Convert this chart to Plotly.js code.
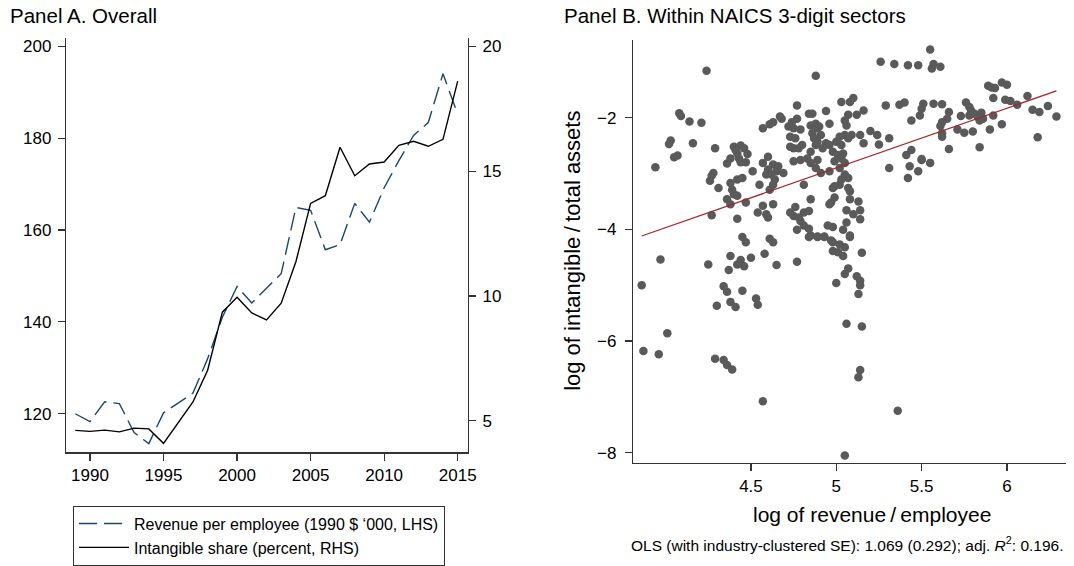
<!DOCTYPE html>
<html>
<head>
<meta charset="utf-8">
<script src="https://cdn.plot.ly/plotly-3.0.1.min.js"></script>
<style>html,body{margin:0;padding:0;background:#fff;}#chart{width:1074px;height:566px;}</style>
</head>
<body>
<div id="chart"></div>
<script>
// ---------- Panel A data ----------
const years = [1989,1990,1991,1992,1993,1994,1995,1996,1997,1998,1999,2000,2001,2002,2003,2004,2005,2006,2007,2008,2009,2010,2011,2012,2013,2014,2015];
const revenuePerEmployee = [120.0,118.3,122.6,122.2,115.9,113.5,120.2,122.4,124.5,132.0,141.0,147.7,144.1,147.3,150.5,164.9,164.3,155.7,156.8,165.8,161.7,169.2,175.1,180.6,183.4,194.0,185.2];
const intangibleShare = [4.61,4.57,4.62,4.55,4.70,4.67,4.09,4.92,5.75,7.02,9.35,9.95,9.32,9.04,9.71,11.37,13.71,14.02,15.96,14.82,15.29,15.37,16.04,16.20,16.00,16.28,18.61];
const seriesNames = ["Revenue per employee (1990 $ \u2018000, LHS)", "Intangible share (percent, RHS)"];
const yearTicks = [1990,1995,2000,2005,2010,2015];
const leftTicks = [120,140,160,180,200];
const rightTicks = [5,10,15,20];

// ---------- Panel B data ----------
const logRevPerEmp = [
4.24,4.09,4.08,4.14,4.21,4.03,4.02,4.16,4.05,4.07,3.94,4.29,4.26,4.28,4.27,4.31,4.27,
4.40,4.44,4.46,4.42,4.38,4.43,4.48,4.47,4.36,4.44,4.41,4.51,4.38,4.42,4.45,4.39,4.40,4.36,4.38,4.47,4.42,4.42,4.55,4.54,
4.45,4.47,4.61,4.63,3.97,4.25,4.38,4.44,4.42,4.46,4.50,4.58,4.37,4.65,3.86,4.34,4.36,4.45,4.30,4.38,4.41,4.53,4.54,
4.01,3.87,3.96,4.29,4.34,4.36,4.39,4.57,
4.77,5.00,5.05,5.07,5.12,5.14,5.14,5.13,5.15,4.98,5.02,5.05,4.98,5.01,5.04,4.84,4.89,4.93,5.08,5.06,5.15,5.14,5.13,5.36,5.05,
4.88,5.26,5.34,5.42,5.48,5.55,5.03,5.08,5.10,5.29,5.37,5.40,5.51,5.50,5.49,5.44,4.77,4.94,5.16,5.12,5.07,4.84,4.86,
4.67,4.68,4.63,4.61,4.57,4.77,4.74,4.72,4.75,4.79,4.73,4.76,4.85,4.88,4.89,4.86,4.90,4.96,4.91,4.87,4.89,4.94,4.92,4.96,4.88,4.85,
4.80,4.78,4.75,4.73,5.05,5.06,5.02,5.05,5.09,5.14,5.00,5.03,5.07,5.16,5.20,5.24,5.25,5.31,4.98,5.01,5.04,5.03,4.99,
4.83,4.79,4.75,4.85,4.89,4.60,4.57,4.63,4.66,4.60,4.65,4.69,4.62,4.59,4.64,4.63,4.61,4.88,4.91,4.96,5.02,5.05,5.05,5.07,5.03,5.02,4.99,4.98,
4.81,5.07,5.08,4.85,4.99,4.97,4.96,5.08,5.13,4.63,4.57,4.59,4.60,4.76,4.73,4.75,4.78,4.81,4.84,4.79,4.81,4.84,4.77,4.85,4.89,4.93,
5.06,5.10,5.14,5.14,5.06,5.04,5.08,4.95,4.98,4.97,5.31,5.41,5.44,5.50,5.43,5.48,5.42,5.55,
5.57,5.56,5.61,5.57,5.62,5.66,5.65,5.62,5.61,5.62,5.62,5.66,5.71,5.75,5.80,5.73,5.76,5.78,5.79,5.78,5.81,5.83,5.85,5.86,5.84,5.92,5.90,5.84,5.97,
5.89,5.91,5.93,5.97,6.00,5.92,5.99,6.02,6.06,6.12,6.15,6.19,6.24,6.29,6.18,5.50];
const logIntangibleShare = [
-1.16,-1.97,-1.92,-2.07,-2.09,-2.41,-2.47,-2.46,-2.71,-2.68,-2.89,-2.55,-3.13,-2.99,-3.04,-3.26,-3.75,
-2.52,-2.50,-2.55,-2.64,-2.73,-2.73,-2.65,-2.80,-2.82,-2.80,-2.58,-2.96,-3.17,-3.11,-3.08,-3.29,-3.37,-3.46,-3.55,-3.52,-3.40,-3.81,-3.20,-3.70,
-4.14,-4.23,-4.17,-4.23,-4.54,-4.63,-4.48,-4.55,-4.63,-4.66,-4.51,-4.44,-4.73,-4.64,-5.00,-5.02,-5.12,-5.10,-5.37,-5.30,-5.39,-5.24,-5.35,
-5.86,-6.18,-6.24,-6.32,-6.34,-6.43,-6.51,-7.08,
-4.58,-4.96,-4.80,-4.70,-4.84,-4.92,-5.00,-5.16,-4.42,-4.23,-4.27,-4.32,-4.39,-4.41,-4.48,-4.14,-4.14,-4.14,-4.14,-5.69,-5.74,-6.52,-6.65,-7.25,-8.05,
-1.25,-1.00,-1.04,-1.06,-1.06,-0.78,-1.72,-1.72,-1.65,-1.78,-1.77,-1.73,-1.75,-1.84,-1.96,-2.05,-1.78,-1.88,-1.87,-1.95,-1.95,-1.93,-1.93,
-1.98,-2.02,-2.08,-2.12,-2.19,-2.02,-2.08,-2.16,-2.19,-2.21,-2.34,-2.37,-2.14,-2.11,-2.19,-2.28,-2.16,-2.11,-2.31,-2.37,-2.43,-2.46,-2.55,-2.49,-2.49,-2.61,
-2.49,-2.55,-2.55,-2.52,-2.05,-2.14,-2.34,-2.31,-2.31,-2.31,-2.43,-2.49,-2.37,-2.46,-2.24,-2.31,-2.48,-2.37,-2.61,-2.67,-2.64,-2.73,-2.78,
-2.73,-2.76,-2.78,-2.81,-2.76,-2.70,-2.81,-2.84,-2.87,-2.93,-2.96,-2.99,-3.02,-3.02,-3.11,-3.20,-3.29,-2.90,-2.99,-2.96,-2.90,-2.81,-3.02,-3.08,-3.11,-3.20,-3.23,-3.26,
-3.20,-3.26,-3.32,-3.46,-3.43,-3.52,-3.55,-3.46,-3.50,-3.55,-3.58,-3.73,-3.79,-3.60,-3.70,-3.76,-3.79,-3.70,-3.67,-3.85,-3.93,-3.99,-4.01,-4.11,-4.13,-4.13,
-3.66,-3.73,-3.66,-3.82,-3.88,-4.01,-4.11,-3.93,-3.96,-4.20,-2.90,-2.67,-2.58,-2.76,-2.87,-2.96,-3.08,-2.81,
-1.04,-1.12,-1.09,-1.75,-1.76,-1.90,-2.02,-2.08,-2.15,-2.28,-2.34,-2.56,-2.21,-2.27,-2.25,-1.97,-1.73,-1.81,-1.87,-1.96,-1.93,-1.99,-1.91,-2.02,-2.05,-1.96,-2.21,-2.53,-2.12,
-1.43,-1.46,-1.47,-1.37,-1.41,-1.65,-1.68,-1.70,-1.77,-1.61,-1.86,-1.90,-1.79,-1.98,-2.35,-2.74];
const fitX = [3.86, 6.29];
const fitY = [-4.12, -1.52];
const xTicksB = [4.5, 5, 5.5, 6];
const yTicksB = [-8, -6, -4, -2];

// ---------- layout helpers (pixel -> paper) ----------
const W = 1074, H = 566;
const px = v => v / W;
const py = v => 1 - v / H;
const FONT = "Liberation Sans, Arial, Helvetica, sans-serif";
const AX = '#333333';

const axisCommon = {
  showgrid: false, zeroline: false, showline: true, linecolor: AX, linewidth: 1.2,
  ticks: 'outside', ticklen: 7, tickwidth: 1.2, tickcolor: AX,
  tickfont: {family: FONT, size: 17, color: '#000'}, fixedrange: true
};

const traces = [
  {x: years, y: revenuePerEmployee, type: 'scatter', mode: 'lines', name: seriesNames[0],
   xaxis: 'x', yaxis: 'y', line: {color: '#1a476f', width: 1.4, dash: '18px,7px'}},
  {x: years, y: intangibleShare, type: 'scatter', mode: 'lines', name: seriesNames[1],
   xaxis: 'x', yaxis: 'y2', line: {color: '#000000', width: 1.4}},
  {x: logRevPerEmp, y: logIntangibleShare, type: 'scatter', mode: 'markers', showlegend: false,
   xaxis: 'x2', yaxis: 'y3', marker: {color: '#5a5a5a', size: 8.5, line: {width: 0}}},
  {x: fitX, y: fitY, type: 'scatter', mode: 'lines', showlegend: false,
   xaxis: 'x2', yaxis: 'y3', line: {color: '#a3282e', width: 1.3}}
];

const layout = {
  width: W, height: H,
  margin: {l: 0, r: 0, t: 0, b: 0},
  paper_bgcolor: '#fff', plot_bgcolor: '#fff',
  font: {family: FONT, color: '#000'},
  showlegend: true,
  legend: {x: px(73), y: py(512), xanchor: 'left', yanchor: 'top',
    bordercolor: AX, borderwidth: 1, bgcolor: '#fff', itemwidth: 50,
    font: {family: FONT, size: 16, color: '#000'}, tracegroupgap: 0},
  xaxis: Object.assign({}, axisCommon, {domain: [px(66), px(468)], range: [1988.37, 2015.7],
    tickvals: yearTicks, anchor: 'y'}),
  yaxis: Object.assign({}, axisCommon, {domain: [py(458), py(38)], range: [111.6, 201.9],
    tickvals: leftTicks, anchor: 'x', ticklabelstandoff: 3}),
  yaxis2: Object.assign({}, axisCommon, {overlaying: 'y', side: 'right', anchor: 'x',
    range: [3.73, 20.36], tickvals: rightTicks, ticklabelstandoff: 3}),
  xaxis2: Object.assign({}, axisCommon, {domain: [px(633), px(1066)], range: [3.809, 6.346],
    tickvals: xTicksB, ticktext: xTicksB.map(String), anchor: 'y3'}),
  yaxis3: Object.assign({}, axisCommon, {domain: [py(469), py(40)], range: [-8.19, -0.60],
    tickvals: yTicksB, anchor: 'x2', ticklabelstandoff: 5}),
  annotations: [
    {text: 'Panel A. Overall', xref: 'paper', yref: 'paper', x: px(8), y: py(16),
     xanchor: 'left', yanchor: 'middle', showarrow: false, font: {family: FONT, size: 20.5, color: '#000'}},
    {text: 'Panel B. Within NAICS 3-digit sectors', xref: 'paper', yref: 'paper', x: px(562), y: py(16),
     xanchor: 'left', yanchor: 'middle', showarrow: false, font: {family: FONT, size: 20.5, color: '#000'}},
    {text: 'log of intangible\u2009/\u2009total assets', xref: 'paper', yref: 'paper', x: px(573), y: py(254),
     xanchor: 'center', yanchor: 'middle', textangle: -90, showarrow: false, font: {family: FONT, size: 22, color: '#000'}},
    {text: 'log of revenue\u2009/\u2009employee', xref: 'paper', yref: 'paper', x: px(872), y: py(521),
     xanchor: 'center', yanchor: 'middle', showarrow: false, font: {family: FONT, size: 21, color: '#000'}},
    {text: 'OLS (with industry-clustered SE): 1.069 (0.292); adj. <i>R</i><sup>2</sup>: 0.196.', xref: 'paper', yref: 'paper',
     x: px(1066), y: py(551), xanchor: 'right', yanchor: 'middle', showarrow: false, font: {family: FONT, size: 15.5, color: '#000'}}
  ]
};

Plotly.newPlot('chart', traces, layout, {staticPlot: true, displayModeBar: false});
</script>
</body>
</html>
